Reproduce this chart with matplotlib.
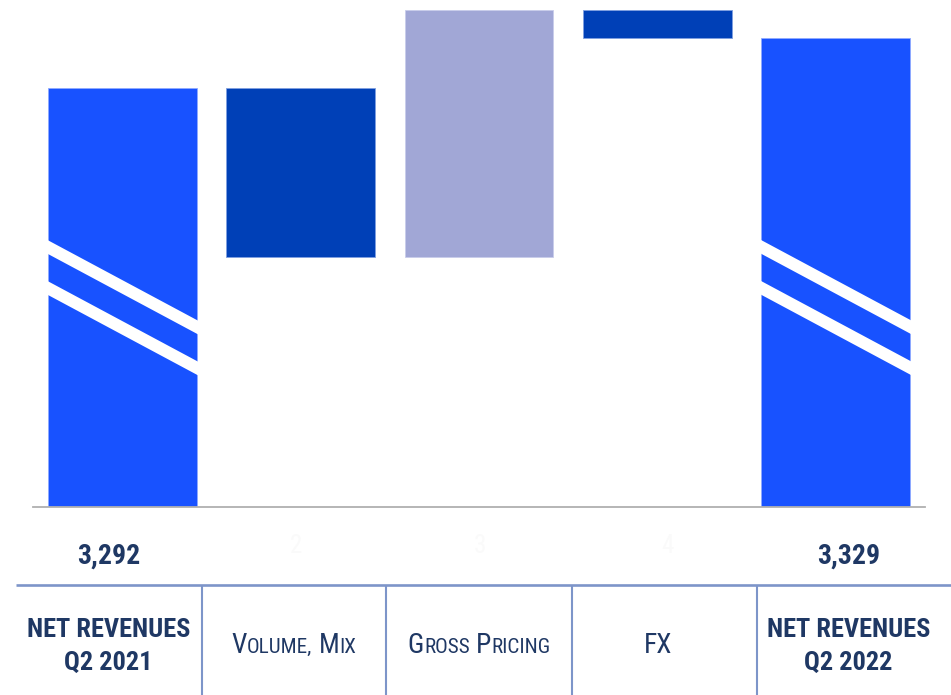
import matplotlib
matplotlib.use("Agg")
import matplotlib.pyplot as plt
from matplotlib.patches import Polygon

# ---- data -------------------------------------------------------------
categories = ["NET REVENUES\nQ2 2021", "VOLUME, MIX", "GROSS PRICING", "FX",
              "NET REVENUES\nQ2 2022"]
start_value = 3292
deltas = [-126, 184, -21]
end_value = 3329
value_labels = ["3,292", "3,329"]
step_labels = ["2", "3", "4"]

# ---- style ------------------------------------------------------------
TOTAL_COLOR = "#1852FF"
DOWN_COLOR = "#0040B7"
UP_COLOR = "#A1A7D6"
TEXT_COLOR = "#1F3864"
GRID_COLOR = "#7D95C9"
FAMILY = ["Roboto Condensed", "DejaVu Sans"]

W, H = 951, 695
fig = plt.figure(figsize=(W / 100, H / 100), dpi=100)

# chart area
ax = fig.add_axes([33 / W, (H - 507) / H, 892 / W, 507 / H])
y_floor, y_top = 2980, 3357.3
ax.set_xlim(-0.5, 4.5)
ax.set_ylim(y_floor, y_top)
ax.axis("off")

bar_w = 0.835
x = list(range(len(categories)))

# opening and closing totals
for xi, val in ((x[0], start_value), (x[-1], end_value)):
    ax.bar(xi, val - y_floor, bottom=y_floor, width=bar_w, color=TOTAL_COLOR,
           edgecolor="#8FAAFF", linewidth=0.6, zorder=2)

# bridge steps
level = start_value
for xi, d in zip(x[1:-1], deltas):
    bottom = min(level, level + d)
    color = UP_COLOR if d > 0 else DOWN_COLOR
    edge = "#C9CDEB" if d > 0 else "#7F9FE0"
    ax.bar(xi, abs(d), bottom=bottom, width=bar_w, color=color,
           edgecolor=edge, linewidth=0.6, zorder=2)
    level += d

# axis-break stripes on the total bars
brk_top, brk_drop, brk_thick, brk_gap = 3179.3, 60.8, 10.2, 30.5
for xi in (x[0], x[-1]):
    xl, xr = xi - bar_w / 2 - 0.01, xi + bar_w / 2 + 0.01
    for k in range(2):
        yl = brk_top - k * brk_gap
        yr = yl - brk_drop
        poly = Polygon([(xl, yl), (xr, yr), (xr, yr - brk_thick),
                        (xl, yl - brk_thick)], closed=True,
                       facecolor="white", edgecolor="none", zorder=3)
        ax.add_patch(poly)

# baseline
ax.plot([-0.5, 4.5], [y_floor, y_floor], color="#B0B0B0", lw=1.3,
        clip_on=False, zorder=4)

# ---- overlay in pixel coordinates for labels and table ------------------
ov = fig.add_axes([0, 0, 1, 1], zorder=-1)
ov.set_xlim(0, W)
ov.set_ylim(H, 0)
ov.axis("off")

# value labels under the totals
ov.text(108.5, 563.5, value_labels[0], ha="center", va="baseline",
        fontsize=20, fontweight="bold", color=TEXT_COLOR, family=FAMILY)
ov.text(849, 563.5, value_labels[1], ha="center", va="baseline",
        fontsize=20, fontweight="bold", color=TEXT_COLOR, family=FAMILY)
for cx, lab in zip((296, 480, 667), step_labels):
    ov.text(cx, 553, lab, ha="center", va="baseline", fontsize=18,
            color="#FAFAFA", family=FAMILY)

# table grid
ov.plot([16, W], [585, 585], color=GRID_COLOR, lw=1.9, solid_capstyle="butt")
for vx in (201.5, 386, 571.5, 756.5):
    ov.plot([vx, vx], [585, H], color=GRID_COLOR, lw=1.5, solid_capstyle="butt")

# bold total headers
for cx, lab in ((108.5, categories[0]), (848.5, categories[-1])):
    l1, l2 = lab.split("\n")
    ov.text(cx, 637.3, l1, ha="center", va="baseline", fontsize=19,
            fontweight="bold", color=TEXT_COLOR, family=FAMILY)
    ov.text(cx, 670, l2, ha="center", va="baseline", fontsize=19,
            fontweight="bold", color=TEXT_COLOR, family=FAMILY)

# small-caps step headers
renderer = fig.canvas.get_renderer()
BIG, SMALL = 19.8, 15.2


def small_caps(cx, baseline, label):
    pieces = []
    for word_i, word in enumerate(label.split(" ")):
        if word_i:
            pieces.append((" ", SMALL))
        if word:
            pieces.append((word[0], BIG))
            if len(word) > 1:
                pieces.append((word[1:], SMALL))
    texts, widths = [], []
    for s, size in pieces:
        t = ov.text(0, baseline, s, ha="left", va="baseline", fontsize=size,
                    color=TEXT_COLOR, family=FAMILY)
        texts.append(t)
        widths.append(t.get_window_extent(renderer).width if s.strip()
                      else size * 0.3 * 100 / 72)
    total = sum(widths)
    xcur = cx - total / 2
    for t, w in zip(texts, widths):
        t.set_x(xcur)
        xcur += w


small_caps(294, 653, categories[1])
small_caps(479, 653, categories[2])
ov.text(658, 653, categories[3], ha="center", va="baseline", fontsize=BIG,
        color=TEXT_COLOR, family=FAMILY)

fig.savefig("out.png", dpi=100)
